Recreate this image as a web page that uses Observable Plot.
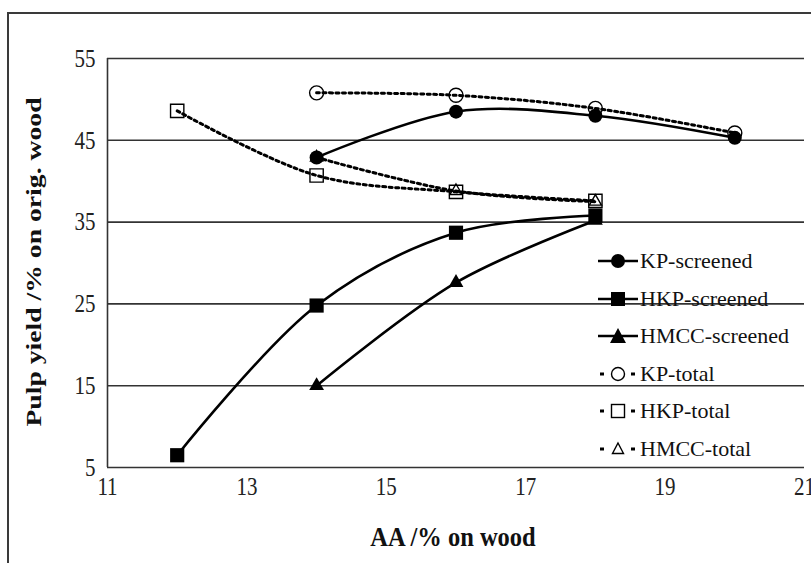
<!DOCTYPE html>
<html><head><meta charset="utf-8">
<script src="https://cdn.jsdelivr.net/npm/d3@7"></script>
<script src="https://cdn.jsdelivr.net/npm/@observablehq/plot@0.6"></script>
<style>
body{margin:0;background:#fff;width:811px;height:563px;overflow:hidden;position:relative;font-family:"Liberation Serif",serif;color:#111;}
#frame{position:absolute;left:7px;top:12px;width:900px;height:700px;border-left:2px solid #3a3a3a;border-top:2px solid #3a3a3a;}
#chart{position:absolute;left:0;top:0;}
.anchor{position:absolute;width:0;height:0;}
.anchor span{position:absolute;white-space:nowrap;font-weight:bold;transform-origin:center;font-family:"Liberation Serif",serif;}
#legend .row{position:absolute;left:596px;height:26px;display:flex;align-items:center;font-size:22px;white-space:nowrap;font-family:"Liberation Serif",serif;}
#legend svg{display:block;}
</style>
</head><body>
<div id="frame"></div>
<div id="chart"></div>
<div class="anchor" style="left:34px;top:262px"><span id="ylab" style="font-size:20.5px;transform:translate(-50%,-50%) rotate(-90deg) scale(1.35,1)"></span></div>
<div class="anchor" style="left:453px;top:537px"><span id="xlab" style="font-size:24.5px;transform:translate(-50%,-50%) scale(1,1.1)"></span></div>
<div id="legend"></div>
<script>
// ---- data ----
const xTicks = [11, 13, 15, 17, 19, 21];
const yTicks = [5, 15, 25, 35, 45, 55];
const xLabel = "AA /% on wood";
const yLabel = "Pulp yield /% on orig. wood";
const legendNames = ["KP-screened", "HKP-screened", "HMCC-screened", "KP-total", "HKP-total", "HMCC-total"];

const kpScreenedX = [14, 16, 18, 20];
const kpScreenedY = [42.9, 48.5, 48.0, 45.3];
const hkpScreenedX = [12, 14, 16, 18];
const hkpScreenedY = [6.5, 24.8, 33.7, 35.8];
const hmccScreenedX = [14, 16, 18];
const hmccScreenedY = [15.0, 27.6, 35.2];
const kpTotalX = [14, 16, 18, 20];
const kpTotalY = [50.8, 50.5, 48.9, 45.9];
const hkpTotalX = [12, 14, 16, 18];
const hkpTotalY = [48.6, 40.7, 38.7, 37.6];
const hmccTotalX = [14, 16, 18];
const hmccTotalY = [42.9, 38.8, 37.5];

const rows = (name, xs, ys) => xs.map((x, i) => ({name, x, y: ys[i]}));
const kpS = rows("KP-screened", kpScreenedX, kpScreenedY);
const hkpS = rows("HKP-screened", hkpScreenedX, hkpScreenedY);
const hmccS = rows("HMCC-screened", hmccScreenedX, hmccScreenedY);
const kpT = rows("KP-total", kpTotalX, kpTotalY);
const hkpT = rows("HKP-total", hkpTotalX, hkpTotalY);
const hmccT = rows("HMCC-total", hmccTotalX, hmccTotalY);

const solid = {x: "x", y: "y", curve: "catmull-rom", stroke: "#000", strokeWidth: 2.6};
const dotted = {x: "x", y: "y", curve: "catmull-rom", stroke: "#000", strokeWidth: 3, strokeDasharray: "3,3.5"};
const openM = {x: "x", y: "y", fill: "none", stroke: "#000", strokeWidth: 1.4};
const fillM = {x: "x", y: "y", fill: "#000", stroke: "none"};

const plot = Plot.plot({
  width: 811, height: 563,
  marginLeft: 107, marginRight: 7, marginTop: 58, marginBottom: 96,
  style: {fontFamily: '"Liberation Serif", serif', fontSize: "21px", color: "#222", background: "transparent"},
  x: {domain: [11, 21], ticks: xTicks, tickSize: 0, tickPadding: 11, label: null},
  y: {domain: [5, 55], ticks: yTicks, tickSize: 0, tickPadding: 12, label: null},
  marks: [
    Plot.ruleY(yTicks, {stroke: "#333", strokeWidth: 1.6}),
    Plot.ruleX([11], {stroke: "#333", strokeWidth: 1.6}),
    Plot.line(kpT, dotted),
    Plot.line(hkpT, dotted),
    Plot.line(hmccT, dotted),
    Plot.line(kpS, solid),
    Plot.line(hkpS, solid),
    Plot.line(hmccS, solid),
    Plot.dot(kpT, {...openM, symbol: "circle", r: 7}),
    Plot.dot(hkpT, {...openM, symbol: "square", r: 7.5}),
    Plot.dot(hmccT, {...openM, symbol: "triangle", r: 4.5}),
    Plot.dot(kpS, {...fillM, symbol: "circle", r: 7}),
    Plot.dot(hkpS, {...fillM, symbol: "square", r: 8}),
    Plot.dot(hmccS, {...fillM, symbol: "triangle", r: 5.5})
  ]
});
document.getElementById("chart").appendChild(plot);

// tick labels: larger serif, stretched vertically around their own centre like the reference
plot.querySelectorAll('g[aria-label$="tick label"]').forEach(g => {
  g.setAttribute("font-size", "21");
  g.style.fontSize = "21px";
  g.style.fontFamily = '"Liberation Serif", serif';
});
plot.querySelectorAll('g[aria-label$="tick label"] text').forEach(t => {
  t.style.fontSize = "21px";
  try {
    const b = t.getBBox();
    const cy = b.y + b.height / 2;
    const tr = t.getAttribute("transform") || "";
    t.setAttribute("transform", `${tr} translate(0,${cy}) scale(1,1.22) translate(0,${-cy})`);
  } catch (e) {}
});

document.getElementById("xlab").textContent = xLabel;
document.getElementById("ylab").textContent = yLabel;

// legend
const legendStyles = [
  {dash: false, sym: "circle", fill: true},
  {dash: false, sym: "square", fill: true},
  {dash: false, sym: "triangle", fill: true},
  {dash: true, sym: "circle", fill: false},
  {dash: true, sym: "square", fill: false},
  {dash: true, sym: "triangle", fill: false}
];
const leg = document.getElementById("legend");
legendNames.forEach((name, i) => {
  const s = legendStyles[i];
  const cy = 261 + i * 37.5;
  const row = document.createElement("div");
  row.className = "row";
  row.style.top = (cy - 13) + "px";
  const ns = "http://www.w3.org/2000/svg";
  const svg = document.createElementNS(ns, "svg");
  svg.setAttribute("width", 44); svg.setAttribute("height", 26);
  let html = "";
  if (s.dash) {
    html += `<rect x="4" y="11.5" width="4" height="3" fill="#000"/><rect x="35" y="11.5" width="4" height="3" fill="#000"/>`;
  } else {
    html += `<line x1="2" x2="42" y1="13" y2="13" stroke="#000" stroke-width="2.6"/>`;
  }
  const f = s.fill ? 'fill="#000"' : 'fill="none" stroke="#000" stroke-width="1.4"';
  if (s.sym === "circle") html += `<circle cx="22" cy="13" r="${s.fill ? 7 : 6.5}" ${f}/>`;
  if (s.sym === "square") html += `<rect x="${s.fill ? 15 : 15.5}" y="${s.fill ? 6 : 6.5}" width="${s.fill ? 14 : 13}" height="${s.fill ? 14 : 13}" ${f}/>`;
  if (s.sym === "triangle") html += s.fill ? `<path d="M22,5 L30,20 L14,20Z" ${f}/>` : `<path d="M22,7 L27.5,17.5 L16.5,17.5Z" ${f}/>`;
  svg.innerHTML = html;
  row.appendChild(svg);
  const sp = document.createElement("span");
  sp.textContent = name;
  row.appendChild(sp);
  leg.appendChild(row);
});
</script>
</body></html>
